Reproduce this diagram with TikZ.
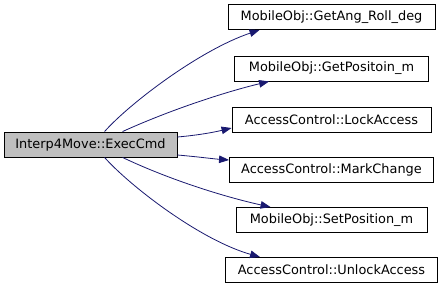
\documentclass[tikz,border=0pt]{standalone}
\usepackage{fontspec}
\setmainfont{DejaVu Sans}
\usetikzlibrary{arrows.meta}
\definecolor{edgeblue}{HTML}{191970}
\definecolor{callerfill}{HTML}{BFBFBF}
\tikzset{
  fn/.style={draw=black, line width=0.9pt, fill=white, minimum height=25pt,
    inner sep=0pt, font=\fontsize{12.9}{15}\selectfont, text=black},
  caller/.style={fn, fill=callerfill},
  call/.style={draw=edgeblue, line width=0.8pt,
    -{Triangle[length=10pt,width=7.5pt,fill=edgeblue]}}
}
\begin{document}
\begin{tikzpicture}[x=1pt,y=-1pt]
\useasboundingbox[fill=white] (0,0) rectangle (443,291);

% calling function
\node[caller, minimum width=173pt] (src) at (90.5,144.5) {Interp4Move::ExecCmd};

% called functions
\node[fn, minimum width=207pt] (f1) at (331.5,17)  {MobileObj::GetAng\_Roll\_deg};
\node[fn, minimum width=194pt] (f2) at (331.5,68.5)  {MobileObj::GetPositoin\_m};
\node[fn, minimum width=199pt] (f3) at (331.5,119.5) {AccessControl::LockAccess};
\node[fn, minimum width=204pt] (f4) at (331.5,170) {AccessControl::MarkChange};
\node[fn, minimum width=191pt] (f5) at (331.5,220) {MobileObj::SetPosition\_m};
\node[fn, minimum width=212pt] (f6) at (331.5,270) {AccessControl::UnlockAccess};

% call edges
\draw[call] ([xshift=101pt]src.north west) .. controls (130,103) and (200,50) .. ([xshift=32pt]f1.south west);
\draw[call] ([xshift=119pt]src.north west) .. controls (170,110) and (225,92) .. ([xshift=35pt]f2.south west);
\draw[call] ([yshift=7.5pt]src.east) .. controls (200,135) and (215,132) .. ([yshift=-8.5pt]f3.west);
\draw[call] ([yshift=-10.5pt]src.east) .. controls (200,157) and (215,159) .. ([yshift=10pt]f4.west);
\draw[call] ([xshift=119pt]src.south west) .. controls (170,180) and (225,197) .. ([xshift=35pt]f5.north west);
\draw[call] ([xshift=101pt]src.south west) .. controls (130,186) and (200,240) .. ([xshift=35pt]f6.north west);
\end{tikzpicture}
\end{document}
